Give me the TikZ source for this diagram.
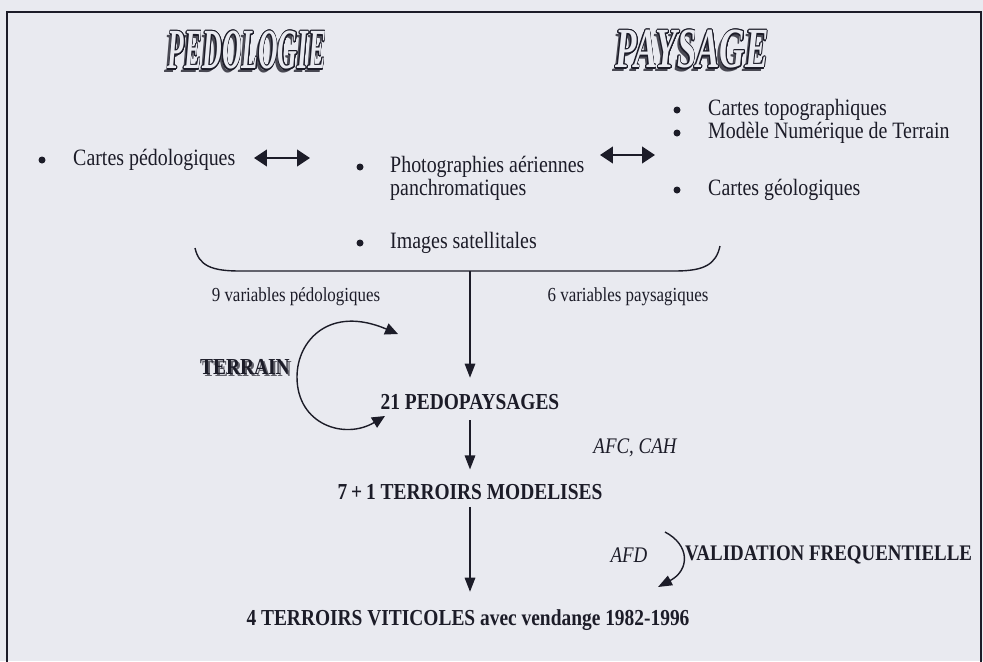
\documentclass[tikz,border=0pt]{standalone}
\usepackage{fontspec}
\setmainfont{Liberation Serif}[FakeStretch=0.85]
\usepackage{graphicx}
\usepackage[copies]{contour}
\usetikzlibrary{arrows.meta}
\definecolor{paper}{RGB}{233,234,240}
\definecolor{ink}{RGB}{28,28,40}
\contourlength{0.8pt}
\contournumber{24}
\newcommand{\titre}[2]{\scalebox{#1}[1.1]{\fontsize{44}{44}\selectfont\bfseries\itshape #2}}

\begin{document}
\begin{tikzpicture}[x=0.03cm,y=-0.03cm,
  item/.style={anchor=west,inner sep=0pt,align=left,font=\fontsize{20}{19.6}\selectfont,text=ink},
  var/.style={inner sep=0pt,font=\fontsize{17}{18}\selectfont,text=ink},
  etape/.style={inner sep=0pt,font=\fontsize{19.5}{20}\selectfont\bfseries,text=ink},
  methode/.style={inner sep=0pt,font=\fontsize{19}{20}\selectfont\itshape,text=ink},
  fleche/.style={-{Triangle[length=12pt,width=9pt]},line width=1.2pt,ink},
  lien/.style={{Triangle[length=11pt,width=14pt]}-{Triangle[length=11pt,width=14pt]},line width=2.2pt,ink},
  puce/.style={fill=ink}]
\useasboundingbox (0,0) rectangle (983,661);
\clip (0,0) rectangle (983,661);
\fill[paper] (0,0) rectangle (983,661);
\draw[ink,line width=1pt] (7,700) -- (7,12) -- (981,12) -- (981,700);

% titres
\node[text=ink!80] (pedo-ombre) at (244,54) {\titre{0.62}{PEDOLOGIE}};
\node (pedo) at (247,51) {\titre{0.62}{\contour{ink}{\textcolor{paper}{PEDOLOGIE}}}};
\node[text=ink!80] (pays-ombre) at (689,53) {\titre{0.8}{PAYSAGE}};
\node (pays) at (692,50) {\titre{0.8}{\contour{ink}{\textcolor{paper}{PAYSAGE}}}};

% sources
\fill[puce] (42,160) circle (3.5);
\node[item] (carped) at (73,160) {Cartes pédologiques};
\fill[puce] (360,167) circle (3.5);
\node[item] (photo) at (390,178) {Photographies aériennes\\panchromatiques};
\fill[puce] (360,243) circle (3.5);
\node[item] (sat) at (390,243) {Images satellitales};
\fill[puce] (677,110) circle (3.5);
\node[item] (topo) at (708,110) {Cartes topographiques};
\fill[puce] (677,133) circle (3.5);
\node[item] (mnt) at (708,133) {Modèle Numérique de Terrain};
\fill[puce] (677,190) circle (3.5);
\node[item] (geol) at (708,190) {Cartes géologiques};

\coordinate (g1) at (254,158);
\coordinate (d1) at (310,158);
\draw[lien] (g1) -- (d1);
\coordinate (g2) at (600,155);
\coordinate (d2) at (655,155);
\draw[lien] (g2) -- (d2);

% accolade
\draw[ink,line width=1.2pt] (195,248) .. controls (199,266) and (212,271) .. (240,271) -- (675,271) .. controls (705,271) and (716,264) .. (720,246);
\coordinate (accolade) at (470,271);
\node[var] (vped) at (296,297) {9 variables pédologiques};
\node[var] (vpay) at (628,297) {6 variables paysagiques};

% etapes
\node[etape] (pedo21) at (470,402) {21 PEDOPAYSAGES};
\node[etape] (modeles) at (470,492) {7\,+\,1 TERROIRS MODELISES};
\node[etape] (viti) at (468,620) {4 TERROIRS VITICOLES avec vendange 1982-1996};
\draw[fleche,shorten >=14pt] (accolade) -- (accolade |- pedo21.north);
\draw[fleche,shorten <=9pt,shorten >=12.5pt] (pedo21.south) -- (modeles.north);
\draw[fleche,shorten <=6pt,shorten >=15pt] (modeles.south) -- (modeles.south |- viti.north);

% terrain
\node[etape,text=ink!70] (terrain-ombre) at (247,369) {TERRAIN};
\node[etape] (terrain) at (245,367) {TERRAIN};
\coordinate (t1) at (398,334);
\coordinate (t2) at (385,416);
\draw[{Triangle[length=11pt,width=10pt]}-{Triangle[length=11pt,width=10pt]},line width=1.2pt,ink]
  (t1) .. controls (330,305) and (297,340) .. (297,377) .. controls (297,425) and (345,440) .. (t2);

% methodes
\node[methode] (afc) at (635,448) {AFC, CAH};
\node[methode] (afd) at (629,555) {AFD};
\node[etape,anchor=west,font=\fontsize{19}{20}\selectfont\bfseries] (valid) at (685,555) {VALIDATION FREQUENTIELLE};
\coordinate (v1) at (665,532);
\coordinate (v2) at (658,587);
\draw[fleche] (v1) .. controls (690,545) and (690,570) .. (v2);
\end{tikzpicture}
\end{document}
